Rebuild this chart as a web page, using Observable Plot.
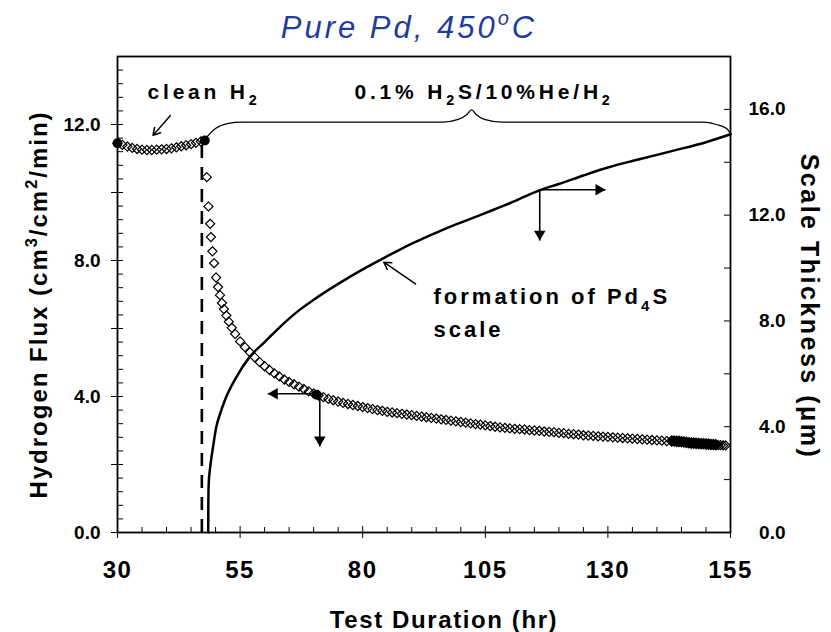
<!DOCTYPE html>
<html>
<head>
<meta charset="utf-8">
<script src="https://cdn.jsdelivr.net/npm/d3@7"></script>
<script src="https://cdn.jsdelivr.net/npm/@observablehq/plot@0.6"></script>
<style>
  html, body { margin: 0; padding: 0; background: #fff; }
  #title {
    height: 48px; box-sizing: border-box; padding-top: 10px; padding-right: 13px;
    text-align: center; white-space: nowrap; line-height: 1;
    font: italic 31px 'Liberation Sans', Arial, Helvetica, sans-serif;
    letter-spacing: 3px; color: #1f3c9e;
  }
  #title sup { font-size: 20px; vertical-align: baseline; position: relative; top: -13px; }
</style>
</head>
<body>
<div id="title">Pure Pd, 450<sup>o</sup>C</div>
<div id="chart"></div>
<script>
// ---------------- data ----------------
const xTickLabels = [30, 55, 80, 105, 130, 155];
const fluxTickLabels = [0, 4, 8, 12];
const thicknessTickLabels = [0, 4, 8, 12, 16];

// hydrogen flux, open diamonds
const fluxHours = [
  30, 31, 32, 33, 34, 35, 36, 37, 38, 39, 40, 41, 42, 43, 44, 45, 46, 47,
  48.2, 48.55, 48.9, 49.05, 49.35, 49.7, 50.1, 50.5, 50.9, 51.3, 51.7, 52.2, 52.7, 53.3, 54, 55,
  56, 57, 58, 59, 60, 61, 62, 63, 64, 65, 66, 67, 68, 69, 70, 71, 72, 73, 74, 75,
  76, 77, 78, 79, 80, 81, 82, 83, 84, 85, 86, 87, 88, 89, 90, 91, 92, 93, 94, 95,
  96, 97, 98, 99, 100, 101, 102, 103, 104, 105, 106, 107, 108, 109, 110, 111, 112, 113, 114, 115,
  116, 117, 118, 119, 120, 121, 122, 123, 124, 125, 126, 127, 128, 129, 130, 131, 132, 133, 134, 135,
  136, 137, 138, 139, 140, 141, 142,
  152.5, 153, 153.5, 154
];
const fluxValues = [
  11.45, 11.40, 11.35, 11.31, 11.28, 11.26, 11.25, 11.25, 11.26, 11.27, 11.28, 11.30, 11.33, 11.36, 11.39, 11.42, 11.46, 11.50,
  10.45, 9.59, 9.08, 8.69, 8.27, 7.92, 7.50, 7.22, 6.98, 6.75, 6.57, 6.38, 6.20, 6.02, 5.84, 5.62,
  5.45, 5.30, 5.15, 5.01, 4.89, 4.78, 4.68, 4.59, 4.50, 4.43, 4.36, 4.29, 4.22, 4.15, 4.09, 4.03, 3.98, 3.93, 3.89, 3.85,
  3.81, 3.78, 3.75, 3.72, 3.69, 3.66, 3.63, 3.60, 3.58, 3.55, 3.53, 3.51, 3.49, 3.47, 3.45, 3.43, 3.41, 3.39, 3.37, 3.35,
  3.33, 3.31, 3.29, 3.27, 3.25, 3.23, 3.21, 3.19, 3.17, 3.15, 3.13, 3.11, 3.09, 3.08, 3.06, 3.05, 3.04, 3.03, 3.01, 3.00,
  2.99, 2.97, 2.96, 2.95, 2.93, 2.92, 2.90, 2.89, 2.88, 2.86, 2.85, 2.84, 2.83, 2.82, 2.81, 2.80, 2.79, 2.78, 2.77, 2.76,
  2.75, 2.74, 2.73, 2.72, 2.71, 2.70, 2.69,
  2.57, 2.57, 2.56, 2.56
];

// hydrogen flux, dense (filled) stretch near the end
const denseHours = [143, 143.5, 144, 144.5, 145, 145.5, 146, 146.5, 147, 147.5, 148, 148.5, 149, 149.5, 150, 150.5, 151, 151.5, 152];
const denseFlux  = [2.69, 2.69, 2.68, 2.68, 2.67, 2.66, 2.65, 2.64, 2.63, 2.63, 2.62, 2.62, 2.61, 2.61, 2.60, 2.60, 2.59, 2.59, 2.58];

// highlighted (solid) flux points
const markedHours = [30, 47.8, 70.6];
const markedFlux  = [11.45, 11.53, 4.05];

// scale thickness (µm), solid line, right axis
const scaleHours = [48.5, 48.52, 48.6, 48.9, 49.5, 50.1, 50.9, 52, 54, 57, 60, 63, 67, 70, 75, 80, 84, 87.4, 90, 95.5,
  100, 105, 110, 115.8, 120, 125, 130, 135, 140, 143.6, 150, 155];
const scaleThickness = [0, 1.0, 1.85, 2.46, 3.25, 3.95, 4.48, 5.05, 5.8, 6.65, 7.2, 7.75, 8.4, 8.8, 9.4, 9.95, 10.35, 10.68, 10.92, 11.38,
  11.72, 12.08, 12.45, 12.92, 13.18, 13.5, 13.8, 14.05, 14.28, 14.45, 14.76, 15.06];

// gas switch (dashed line)
const switchHour = [47.2];
const switchFluxTop = [11.4];

// brace over the H2S period (hours, flux units)
const braceHours = [47.9, 50.0, 52.6, 55.3, 96.3, 99.5, 101.2, 102.2, 103.2, 104.8, 108.4, 149.4, 152.1, 154.2, 155];
const braceFlux  = [11.58, 11.88, 12.03, 12.07, 12.07, 12.15, 12.29, 12.43, 12.29, 12.15, 12.07, 12.07, 12.0, 11.88, 11.74];

// annotation texts
const notes = [
  {text: "clean H_2", hour: 36.12, flux: 12.76, group: "top"},
  {text: "0.1% H_2S/10%He/H_2", hour: 78.33, flux: 12.76, group: "top"},
  {text: "formation of Pd_4S", hour: 94.44, flux: 6.71, group: "scale"},
  {text: "scale", hour: 94.44, flux: 5.74, group: "scale"}
];
// thin pointer arrows (flux units)
const pointers = [
  {h1: 40.75, v1: 12.26, h2: 37.24, v2: 11.68},
  {h1: 90.77, v1: 7.31, h2: 84.3, v2: 7.95}
];
// axis-indicating arrows
const fluxArrows = [
  {h1: 70.5, v1: 4.08, h2: 60.65, v2: 4.08, dir: "left"},
  {h1: 71.25, v1: 3.98, h2: 71.25, v2: 2.53, dir: "down"}
];
const thicknessArrows = [
  {h1: 115.9, v1: 12.96, h2: 129.5, v2: 12.96, dir: "right"},
  {h1: 116.1, v1: 12.96, h2: 116.1, v2: 11.04, dir: "down"}
];

const xTitle = "Test Duration (hr)";
const leftTitle = "Hydrogen Flux (cm^3/cm^2/min)";
const rightTitle = "Scale Thickness (\u03bcm)";

// ---------------- build ----------------
const FONT = "'Liberation Sans', Arial, Helvetica, sans-serif";
const k = 14 / 18; // right axis (0–18 µm) drawn on left scale (0–14)

const fluxData = fluxHours.map((h, i) => ({h, f: fluxValues[i]}));
const denseData = denseHours.map((h, i) => ({h, f: denseFlux[i]}));
const markedData = markedHours.map((h, i) => ({h, f: markedFlux[i]}));
const scaleData = scaleHours.map((h, i) => ({h, f: scaleThickness[i] * k}));
const braceData = braceHours.map((h, i) => ({h, f: braceFlux[i]}));
const switchData = switchHour.map((h, i) => ({h, top: switchFluxTop[i]}));
const shafts = [...fluxArrows, ...thicknessArrows.map(a => ({...a, v1: a.v1 * k, v2: a.v2 * k}))];

const hourMinor = d3.range(30, 155, 5).filter(h => (h - 30) % 25 !== 0);
const fluxMajor = d3.range(0, 14, 2);
const fluxMinor = d3.range(35).filter(i => i % 5 !== 0).map(i => i * 0.4);
const thicknessTicks = d3.range(2, 18, 2);

const chart = Plot.plot({
  width: 831,
  height: 584,
  marginTop: 8,
  marginRight: 101,
  marginBottom: 100,
  marginLeft: 117,
  x: {domain: [30, 155]},
  y: {domain: [0, 14]},
  style: {fontFamily: FONT, fontWeight: "bold", background: "white", color: "black", overflow: "visible"},
  marks: [
    // axes: ticks
    Plot.axisX(hourMinor, {tickSize: 5, insetBottom: 5, fill: "none", label: null}),
    Plot.axisX(xTickLabels, {tickSize: 12, insetBottom: 6, fill: "none", label: null}),
    Plot.axisY(fluxMinor, {tickSize: 6, insetLeft: 6, fill: "none", label: null}),
    Plot.axisY(fluxMajor, {tickSize: 12, insetLeft: 6, fill: "none", label: null}),
    Plot.axisY(thicknessTicks.map(t => t * k), {anchor: "right", tickSize: 7, insetRight: 7, fill: "none", label: null}),
    // axes: labels
    Plot.axisX(xTickLabels, {tickSize: 0, tickPadding: 28, fontSize: 24, tickFormat: d => String(d), label: null}),
    Plot.axisY(fluxTickLabels, {tickSize: 0, tickPadding: 17, fontSize: 19, tickFormat: d => d.toFixed(1), label: null}),
    Plot.axisY(thicknessTickLabels.map(t => t * k), {anchor: "right", tickSize: 0, tickPadding: 55, textAnchor: "end",
      fontSize: 19, tickFormat: d => (d / k).toFixed(1), label: null}),
    Plot.frame({strokeWidth: 1.8}),

    // gas switch
    Plot.ruleX(switchData, {x: "h", y1: 0, y2: "top", strokeWidth: 2.6, strokeDasharray: "13,9"}),
    // brace
    Plot.line(braceData, {x: "h", y: "f", curve: "monotone-x", strokeWidth: 1.3}),
    // scale thickness
    Plot.line(scaleData, {x: "h", y: "f", curve: "monotone-x", strokeWidth: 2.5}),
    // flux
    Plot.dot(fluxData, {x: "h", y: "f", symbol: "diamond2", r: 4.1, stroke: "black", strokeWidth: 1.2, fill: "none"}),
    Plot.dot(denseData, {x: "h", y: "f", symbol: "diamond2", r: 4.5, stroke: "black", fill: "black"}),
    Plot.dot(markedData, {x: "h", y: "f", symbol: "circle", r: 4.2, stroke: "black", fill: "black"}),

    // arrows
    Plot.link(shafts, {x1: "h1", y1: "v1", x2: "h2", y2: "v2", strokeWidth: 1.6}),
    Plot.dot(shafts.filter(d => d.dir === "left"), {x: "h2", y: "v2", symbol: "triangle2", r: 5.5, rotate: -90, dx: 6.6, fill: "black"}),
    Plot.dot(shafts.filter(d => d.dir === "right"), {x: "h2", y: "v2", symbol: "triangle2", r: 5.5, rotate: 90, dx: -6.6, fill: "black"}),
    Plot.dot(shafts.filter(d => d.dir === "down"), {x: "h2", y: "v2", symbol: "triangle2", r: 5.5, rotate: 180, dy: -6.6, fill: "black"}),
    Plot.arrow(pointers, {x1: "h1", y1: "v1", x2: "h2", y2: "v2", strokeWidth: 1.5, headLength: 8}),

    // annotations
    Plot.text(notes.filter(d => d.group === "top"), {x: "hour", y: "flux", text: "text", textAnchor: "start",
      lineAnchor: "bottom", fontSize: 21}),
    Plot.text(notes.filter(d => d.group === "scale"), {x: "hour", y: "flux", text: "text", textAnchor: "start",
      lineAnchor: "bottom", fontSize: 22}),

    // axis titles
    Plot.text([xTitle], {text: d => d, frameAnchor: "bottom", textAnchor: "middle", lineAnchor: "bottom",
      dx: 20, dy: 95.7, fontSize: 24}),
    Plot.text([leftTitle], {text: d => d, frameAnchor: "left", textAnchor: "middle", rotate: -90, lineAnchor: "bottom",
      dx: -70.5, dy: 10, fontSize: 24}),
    Plot.text([rightTitle], {text: d => d, frameAnchor: "right", textAnchor: "middle", rotate: 90, lineAnchor: "bottom",
      dx: 70, dy: 12, fontSize: 25})
  ]
});

document.getElementById("chart").append(chart);

// letter spacing, matched on the text itself
const spacingByText = new Map([
  [xTitle, "1.6px"],
  [leftTitle, "2px"],
  [rightTitle, "2.5px"],
  ...notes.map(n => [n.text, n.group === "top" ? "3.8px" : "3px"]),
  ...xTickLabels.map(v => [String(v), "1.5px"])
]);
const svg = d3.select(chart);
svg.selectAll("text").each(function () {
  const v = spacingByText.get(this.textContent);
  if (v) this.style.letterSpacing = v;
});

// sub/superscripts: "_2" → subscript, "^3" → superscript
function richText(el) {
  const s = el.textContent;
  if (!/[_^]\d/.test(s)) return;
  const fs = parseFloat(getComputedStyle(el).fontSize) || 20;
  const parts = s.split(/([_^]\d)/).filter(p => p);
  el.textContent = "";
  let shift = 0;
  for (const p of parts) {
    const t = document.createElementNS("http://www.w3.org/2000/svg", "tspan");
    let target = 0, txt = p;
    if (/^[_^]\d$/.test(p)) {
      target = p[0] === "_" ? 0.3 * fs : -0.42 * fs;
      txt = p[1];
      t.setAttribute("font-size", (0.68 * fs).toFixed(1));
    }
    if (target !== shift) t.setAttribute("dy", (target - shift).toFixed(1));
    shift = target;
    t.textContent = txt;
    el.appendChild(t);
  }
}
svg.selectAll("text").each(function () { richText(this); });
</script>
</body>
</html>
